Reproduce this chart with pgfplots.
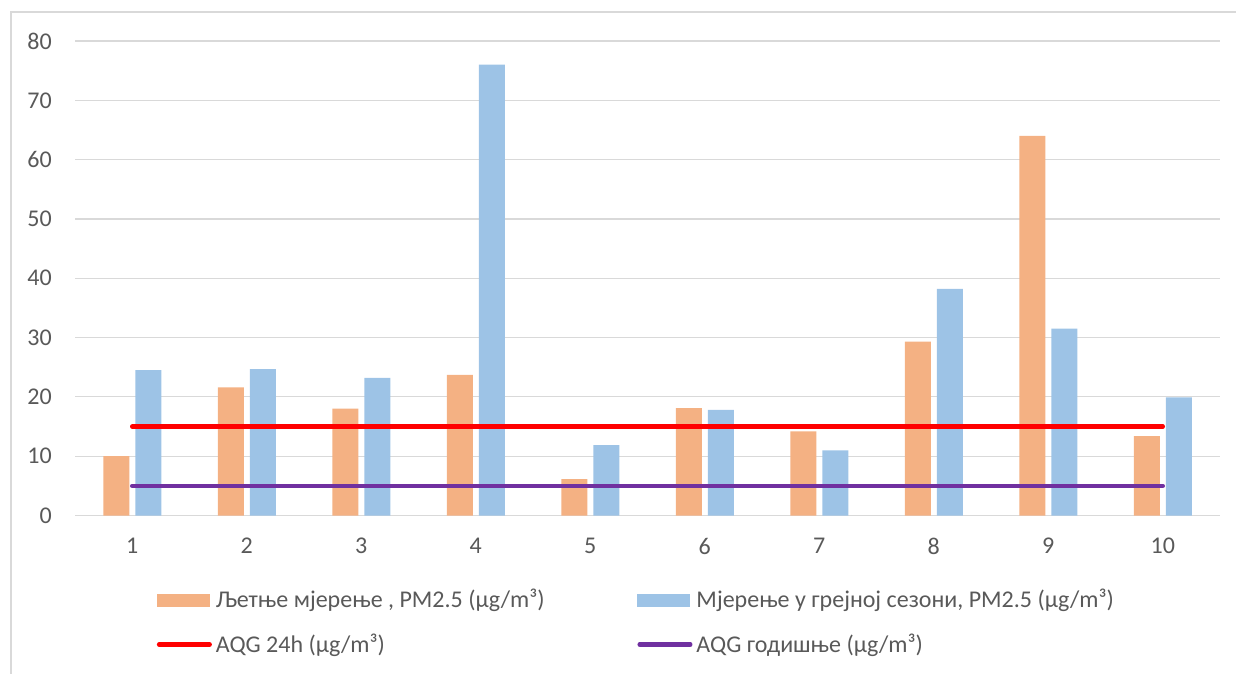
\documentclass[border=0pt]{standalone}
\usepackage{pgfplots}
\pgfplotsset{compat=1.18}
\usepackage{fontspec}
\setmainfont{Carlito}
\definecolor{cOr}{HTML}{F4B183}
\definecolor{cBl}{HTML}{9DC3E6}
\definecolor{cRd}{HTML}{FF0000}
\definecolor{cPu}{HTML}{7030A0}
\definecolor{cGr}{HTML}{D9D9D9}
\definecolor{cTx}{HTML}{595959}
\begin{document}
\begin{tikzpicture}
\path[use as bounding box] (0,0) rectangle (1236pt,673pt);
\draw[cGr, line width=1.2pt] (11pt,-20pt) rectangle (1260pt,661pt);
\begin{axis}[
  at={(75pt,157.5pt)}, anchor=south west,
  width=1145pt, height=474.5pt, scale only axis,
  xmin=0.5, xmax=10.5, ymin=0, ymax=80,
  xtick={1,...,10}, ytick={0,10,...,80},
  ymajorgrids, grid style={cGr, line width=1.2pt},
  axis line style={draw=none}, tick style={draw=none},
  /pgf/number format/assume math mode=true,
  tick label style={font=\fontsize{24}{28}\selectfont, text=cTx},
  xticklabel style={anchor=north, inner sep=0pt, yshift=-22.5pt},
  yticklabel style={anchor=east, inner sep=0pt, xshift=-23pt},
  legend columns=2,
  legend style={draw=none, fill=none, inner sep=0pt,
    at={(axis description cs:0.07135,-0.16017)}, anchor=north west,
    font=\fontsize{24}{28}\selectfont,
    nodes={inner sep=0pt, text height=16pt, text depth=1pt, text=cTx},
    cells={anchor=west},
    row sep=27.3pt,
    /tikz/every odd column/.append style={column sep=4pt}},
]
\addplot[ybar, bar width=26pt, bar shift=-16pt, fill=cOr, draw=none,
  legend image code/.code={\fill[cOr] (0pt,-6.7pt) rectangle (53pt,6.7pt);}]
  coordinates {(1,10.0) (2,21.6) (3,18.0) (4,23.7) (5,6.15) (6,18.1) (7,14.2) (8,29.3) (9,64.0) (10,13.4)};
\addlegendentry{\makebox[421.6pt][l]{Љетње мјерење , PM2.5 (µg/m³)}}
\addplot[ybar, bar width=26pt, bar shift=16pt, fill=cBl, draw=none,
  legend image code/.code={\fill[cBl] (0pt,-6.7pt) rectangle (53pt,6.7pt);}]
  coordinates {(1,24.5) (2,24.7) (3,23.2) (4,76.0) (5,11.85) (6,17.8) (7,11.0) (8,38.2) (9,31.5) (10,19.9)};
\addlegendentry{Мјерење у грејној сезони, PM2.5 (µg/m³)}
\addplot[cRd, line width=4.5pt, line cap=round, mark=none,
  legend image code/.code={\draw[cRd, line width=4.5pt, line cap=round] (2.25pt,0pt) -- (52.75pt,0pt);}]
  coordinates {(1,15) (2,15) (3,15) (4,15) (5,15) (6,15) (7,15) (8,15) (9,15) (10,15)};
\addlegendentry{\makebox[421.6pt][l]{AQG 24h (µg/m³)}}
\addplot[cPu, line width=4.5pt, line cap=round, mark=none,
  legend image code/.code={\draw[cPu, line width=4.5pt, line cap=round] (2.25pt,0pt) -- (52.75pt,0pt);}]
  coordinates {(1,5) (2,5) (3,5) (4,5) (5,5) (6,5) (7,5) (8,5) (9,5) (10,5)};
\addlegendentry{AQG годишње (µg/m³)}
\end{axis}
\end{tikzpicture}
\end{document}
